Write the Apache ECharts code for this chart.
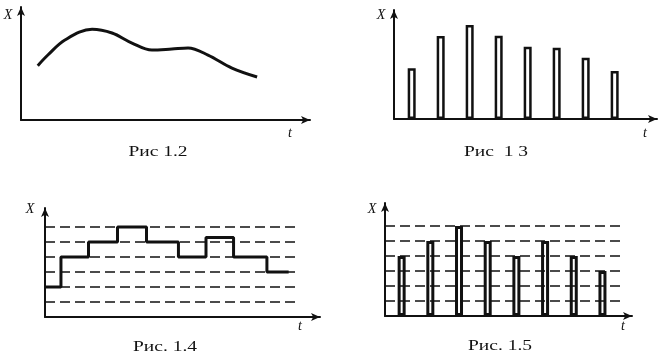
<!DOCTYPE html>
<html>
<head>
<meta charset="utf-8">
<script src="https://cdn.jsdelivr.net/npm/echarts@6/dist/echarts.min.js"></script>
<style>
html,body{margin:0;padding:0;background:#fff;}
#c{width:658px;height:361px;}
</style>
</head>
<body>
<div id="c"></div>
<script>
// Рис 1.2 — continuous signal
const fig2_t = [0.58, 0.93, 1.52, 2.46, 3.15, 3.84, 4.53, 5.22, 5.78, 6.47, 7.30, 8.17];
const fig2_x = [4.81, 5.75, 7.08, 8.03, 7.70, 6.81, 6.19, 6.28, 6.37, 5.75, 4.60, 3.81];
// Рис 1 3 — sampled pulses
const fig3_t = [1, 2, 3, 4, 5, 6, 7, 8];
const fig3_x = [5.07, 8.3, 9.4, 8.33, 7.23, 7.13, 6.13, 4.8];
// Рис. 1.4 — quantized steps
const fig4_t = [0, 0.55, 1.5, 2.5, 3.5, 4.6, 5.55, 6.5, 7.65, 8.4];
const fig4_x = [2, 4, 5, 6, 5, 4, 5.3, 4, 3, 3];
const fig4_levels = [1, 2, 3, 4, 5, 6];
// Рис. 1.5 — quantized pulses
const fig5_t = [1, 2, 3, 4, 5, 6, 7, 8];
const fig5_x = [4, 5, 6, 5, 4, 5, 4, 3];
const fig5_levels = [1, 2, 3, 4, 5, 6];
// labels
const captions = ['Рис 1.2', 'Рис  1 3', 'Рис. 1.4', 'Рис. 1.5'];
const yName = 'X';
const xName = 't';

const INK = '#111';
const chart = echarts.init(document.getElementById('c'), null, {renderer: 'canvas'});

const grids = [
  {left: 21, top: 7, width: 289, height: 113},
  {left: 394, top: 10, width: 263, height: 109},
  {left: 45, top: 208, width: 275, height: 109},
  {left: 385, top: 203, width: 247, height: 113}
];
const xr = [[0, 10], [0.39, 9.46], [0, 9.48], [0.42, 9.03]];
const yr = [[0, 10], [0, 10.9], [0, 7.27], [0, 7.53]];

function axisCommon(extra) {
  return Object.assign({
    axisLine: {show: true, onZero: false, symbol: ['none', 'arrow'], symbolSize: [6, 9],
      lineStyle: {color: INK, width: 2}},
    axisTick: {show: false},
    axisLabel: {show: false},
    splitLine: {show: false}
  }, extra);
}

const xAxis = xr.map((r, i) => axisCommon({type: 'value', gridIndex: i, min: r[0], max: r[1]}));
const yAxis = yr.map((r, i) => axisCommon({type: 'value', gridIndex: i, min: r[0], max: r[1]}));

function dashed(levels, x0, x1, idx) {
  return {
    type: 'line', xAxisIndex: idx, yAxisIndex: idx, data: [], z: 1, silent: true,
    markLine: {
      silent: true, symbol: ['none', 'none'], label: {show: false}, animation: false,
      lineStyle: {color: INK, width: 1.5, type: [10, 5]},
      data: levels.map(v => [{coord: [x0, v]}, {coord: [x1, v]}])
    }
  };
}

const series = [
  {
    type: 'line', xAxisIndex: 0, yAxisIndex: 0, smooth: 0.35, symbol: 'none',
    lineStyle: {color: INK, width: 3},
    data: fig2_t.map((t, i) => [t, fig2_x[i]])
  },
  {
    type: 'bar', xAxisIndex: 1, yAxisIndex: 1, barWidth: 8,
    itemStyle: {color: '#fff', borderColor: INK, borderWidth: 2.5},
    data: fig3_t.map((t, i) => [t, fig3_x[i]])
  },
  dashed(fig4_levels, 0, 8.62, 2),
  {
    type: 'line', xAxisIndex: 2, yAxisIndex: 2, step: 'end', symbol: 'none', z: 3,
    lineStyle: {color: INK, width: 3},
    data: fig4_t.map((t, i) => [t, fig4_x[i]])
  },
  dashed(fig5_levels, 0.42, 8.78, 3),
  {
    type: 'bar', xAxisIndex: 3, yAxisIndex: 3, barWidth: 8, z: 3,
    itemStyle: {color: '#fff', borderColor: INK, borderWidth: 3},
    data: fig5_t.map((t, i) => [t, fig5_x[i]])
  }
];

function txt(s, x, y, font, sx) {
  return {type: 'text', x: x, y: y, scaleX: sx || 1, silent: true,
    style: {text: s, font: font, fill: INK, align: 'center', verticalAlign: 'middle'}};
}
const capFont = '15px "Liberation Serif", serif';
const nameFont = 'italic 14px "Liberation Serif", serif';
const graphic = [
  txt(yName, 8, 15, nameFont), txt(yName, 381, 15, nameFont),
  txt(yName, 30, 209, nameFont), txt(yName, 372, 209, nameFont),
  txt(xName, 290, 133, nameFont), txt(xName, 645, 133, nameFont),
  txt(xName, 300, 326, nameFont), txt(xName, 623, 326, nameFont),
  txt(captions[0], 158, 152, capFont, 1.3), txt(captions[1], 496, 152, capFont, 1.3),
  txt(captions[2], 165, 347, capFont, 1.3), txt(captions[3], 500, 346, capFont, 1.3)
];

chart.setOption({
  animation: false,
  backgroundColor: '#fff',
  grid: grids,
  xAxis: xAxis,
  yAxis: yAxis,
  series: series,
  graphic: graphic
});
</script>
</body>
</html>
